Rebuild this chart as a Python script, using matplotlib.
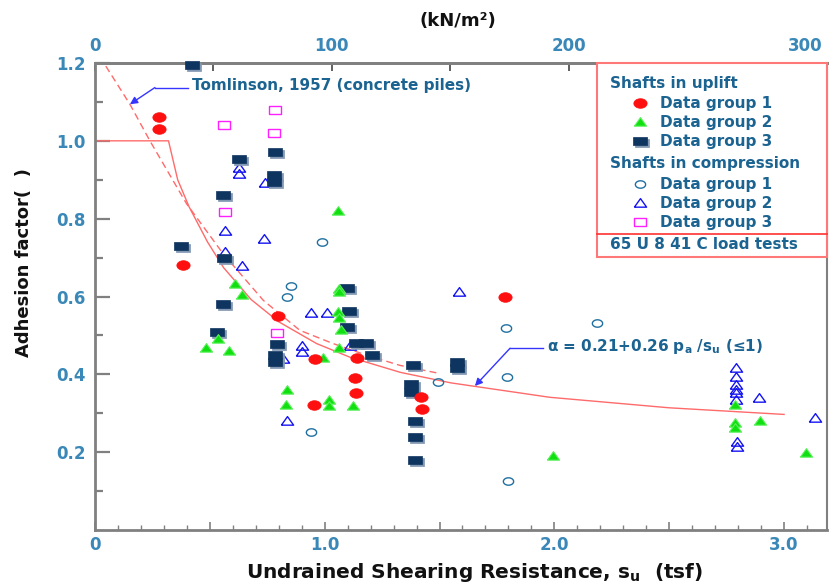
import numpy as np
import matplotlib
matplotlib.use("Agg")
import matplotlib.pyplot as plt
from matplotlib import transforms
from matplotlib.patches import Rectangle
from matplotlib.ticker import MultipleLocator, FixedLocator

# ---------------- data ----------------
# Shafts in uplift
up1_x = [0.279, 0.279, 0.382, 0.795, 0.958, 1.139, 1.132, 1.136, 0.953, 1.418, 1.422, 1.785]
up1_y = [1.062, 1.030, 0.681, 0.551, 0.440, 0.442, 0.391, 0.351, 0.321, 0.342, 0.310, 0.600]

up2_x = [0.610, 0.639, 0.534, 0.483, 0.585, 1.059, 1.064, 1.064, 1.059, 1.064, 1.070, 1.064,
         0.994, 0.837, 0.830, 1.020, 1.020, 1.122, 1.995, 2.786, 2.786, 2.786, 2.895, 3.097]
up2_y = [0.631, 0.603, 0.491, 0.468, 0.460, 0.819, 0.620, 0.611, 0.560, 0.544, 0.513, 0.468,
         0.442, 0.359, 0.321, 0.333, 0.319, 0.319, 0.190, 0.321, 0.275, 0.263, 0.279, 0.198]

up3_x = [0.421, 0.784, 0.628, 0.781, 0.781, 0.556, 0.373, 0.563, 0.559, 0.533, 0.791, 0.784,
         0.784, 1.096, 1.107, 1.096, 1.136, 1.178, 1.207, 1.386, 1.376, 1.376, 1.393, 1.393,
         1.393, 1.574, 1.574]
up3_y = [1.195, 0.972, 0.953, 0.913, 0.893, 0.862, 0.729, 0.698, 0.581, 0.509, 0.479, 0.449,
         0.432, 0.622, 0.564, 0.521, 0.481, 0.481, 0.450, 0.423, 0.374, 0.355, 0.279, 0.239,
         0.179, 0.432, 0.415]

# Shafts in compression
co1_x = [0.987, 0.852, 0.834, 0.942, 1.495, 1.789, 1.795, 1.797, 2.186]
co1_y = [0.739, 0.627, 0.598, 0.252, 0.380, 0.519, 0.392, 0.127, 0.533]

co2_x = [0.628, 0.628, 0.740, 0.566, 0.736, 0.566, 0.641, 0.940, 1.009, 0.900, 0.900, 0.820,
         1.110, 0.834, 1.586, 2.790, 2.790, 2.790, 2.790, 2.790, 2.790, 2.892, 3.136, 2.797, 2.797]
co2_y = [0.929, 0.915, 0.891, 0.768, 0.749, 0.715, 0.679, 0.558, 0.558, 0.474, 0.457, 0.440,
         0.474, 0.280, 0.611, 0.417, 0.393, 0.372, 0.361, 0.352, 0.335, 0.339, 0.288, 0.226, 0.212]

co3_x = [0.563, 0.784, 0.779, 0.566, 0.791]
co3_y = [1.040, 1.079, 1.019, 0.818, 0.507]

# Design line alpha = 0.21 + 0.26 pa/su (<=1)
fit_su    = [0.0, 0.32, 0.36, 0.41, 0.49, 0.56, 0.68, 0.80, 0.965, 1.11, 1.33, 1.55, 1.98, 2.5, 3.0]
fit_alpha = [1.0, 1.0, 0.90, 0.83, 0.74, 0.674, 0.592, 0.535, 0.479, 0.444, 0.405, 0.378, 0.341, 0.314, 0.297]

# Tomlinson (1957) curve
tom_su    = [0.047, 0.152, 0.239, 0.399, 0.559, 0.733, 0.892, 1.037, 1.183, 1.328, 1.502]
tom_alpha = [1.192, 1.094, 1.000, 0.838, 0.709, 0.590, 0.513, 0.479, 0.449, 0.423, 0.402]

# annotations
tom_label = "Tomlinson, 1957 (concrete piles)"
tom_arrow = [(0.152, 1.094), (0.261, 1.137), (0.404, 1.137)]
tom_text_at = (0.421, 1.141)
fit_label = "α = 0.21+0.26 p$_a$ /s$_u$ (≤1)"
fit_arrow = [(1.654, 0.370), (1.807, 0.467), (1.952, 0.467)]
fit_text_at = (1.968, 0.472)

legend_headers = ["Shafts in uplift", "Shafts in compression"]
legend_labels = ["Data group 1", "Data group 2", "Data group 3"]
legend_footer = "65 U 8 41 C load tests"

x_major = [0, 0.5, 1.0, 1.5, 2.0, 2.5, 3.0]
x_labels = ["0", "", "1.0", "", "2.0", "", "3.0"]
y_major = [0.2, 0.4, 0.6, 0.8, 1.0, 1.2]
y_labels = ["0.2", "0.4", "0.6", "0.8", "1.0", "1.2"]
top_major = [0, 100, 200, 300]
top_minor = [50, 150, 250]
KN_PER_TSF = 97.0

# ---------------- style ----------------
plt.rcParams["font.family"] = ["DejaVu Sans"]
plt.rcParams["font.weight"] = "bold"
plt.rcParams["mathtext.default"] = "bf"

TICK_C = "#3a88b8"
TEXT_C = "#1b6391"
SPINE_C = "#808080"
RED = "#ff1010"
GREEN = "#10e010"
NAVY = "#0e355f"
SHADOW = "#8297b2"
CIRC_C = "#1f6fa0"
BLUE = "#1414f0"
MAGENTA = "#ff20ff"
LINE_C = "#ff6a6a"
ARROW_C = "#3535ff"

t = np.linspace(0, 2 * np.pi, 41)
ELL = list(zip(np.cos(t), 0.72 * np.sin(t)))
TRI = [(-1, -0.6), (1, -0.6), (0, 0.8), (-1, -0.6)]
RECT = [(-1, -0.66), (1, -0.66), (1, 0.66), (-1, 0.66), (-1, -0.66)]

fig = plt.figure(figsize=(8.3, 5.83), dpi=100)
ax = fig.add_axes([95 / 830, 53 / 583, 732 / 830, 467 / 583])
ax.set_xlim(0, 3.187)
ax.set_ylim(0, 1.2)

# lines
ax.plot(fit_su, fit_alpha, color=LINE_C, lw=1.0, zorder=2)
ax.plot(tom_su, tom_alpha, color=LINE_C, lw=1.0, ls=(0, (5, 3)), zorder=2)

# markers
def mk(x, y, marker, size, fc, ec, lw=1.0, transform=None, z=3):
    kw = {}
    if transform is not None:
        kw["transform"] = transform
    ax.plot(x, y, ls="none", marker=marker, markersize=size, markerfacecolor=fc,
            markeredgecolor=ec, markeredgewidth=lw, zorder=z, clip_on=False, **kw)

shadow_tr = transforms.offset_copy(ax.transData, fig=fig, x=2, y=-2, units="dots")

mk(co1_x, co1_y, ELL, 7.4, "none", CIRC_C, 1.0)
mk(co2_x, co2_y, TRI, 8.8, "none", BLUE, 1.0)
mk(co3_x, co3_y, RECT, 8.8, "none", MAGENTA, 1.0)
mk(up3_x, up3_y, RECT, 9.4, SHADOW, SHADOW, 0.5, transform=shadow_tr, z=3)
mk(up3_x, up3_y, RECT, 9.4, NAVY, NAVY, 0.5, z=4)
mk(up2_x, up2_y, TRI, 8.8, GREEN, "#5cf05c", 0.8, z=5)
mk(up1_x, up1_y, ELL, 9.6, RED, RED, 0.5, z=5)

# annotations
def arrow(pts, label, at):
    (tx, ty), (bx, by), (ex, ey) = pts
    ax.plot([bx, ex], [by, ey], color=ARROW_C, lw=1.0, zorder=6)
    ax.annotate("", xy=(tx, ty), xytext=(bx, by),
                arrowprops=dict(arrowstyle="-|>", color=ARROW_C, lw=1.0,
                                mutation_scale=11, shrinkA=0, shrinkB=0), zorder=6)
    ax.text(at[0], at[1], label, color=TEXT_C, fontsize=11, fontweight="bold",
            ha="left", va="center", zorder=7)

arrow(tom_arrow, tom_label, tom_text_at)
arrow(fit_arrow, fit_label, fit_text_at)

# axes styling
for s in ax.spines.values():
    s.set_color(SPINE_C)
    s.set_linewidth(2)
ax.spines["right"].set_linewidth(1.5)

ax.xaxis.set_major_locator(FixedLocator(x_major))
ax.set_xticklabels(x_labels)
ax.xaxis.set_minor_locator(MultipleLocator(0.1))
ax.yaxis.set_major_locator(FixedLocator(y_major))
ax.set_yticklabels(y_labels)
ax.yaxis.set_minor_locator(FixedLocator([0.1, 0.3, 0.5, 0.7, 0.9, 1.1]))

ax.tick_params(axis="x", which="major", direction="in", length=6, width=1.2,
               color=SPINE_C, labelsize=12, labelcolor=TICK_C, pad=4)
ax.tick_params(axis="x", which="minor", direction="in", length=3.5, width=1.0, color=SPINE_C)
ax.tick_params(axis="y", which="major", direction="in", length=11, width=1.6,
               color=SPINE_C, labelsize=12, labelcolor=TICK_C, pad=7)
ax.tick_params(axis="y", which="minor", direction="in", length=5.5, width=1.6, color=SPINE_C)
for lab in ax.get_xticklabels() + ax.get_yticklabels():
    lab.set_fontweight("bold")

secax = ax.secondary_xaxis("top", functions=(lambda v: v * KN_PER_TSF, lambda v: v / KN_PER_TSF))
secax.xaxis.set_major_locator(FixedLocator(top_major))
secax.xaxis.set_minor_locator(FixedLocator(top_minor))
secax.tick_params(axis="x", which="both", direction="in", length=6, width=1.2,
                  color="#444444", labelsize=12, labelcolor=TICK_C, pad=6)
secax.tick_params(axis="x", which="minor", length=6)
for lab in secax.get_xticklabels():
    lab.set_fontweight("bold")
secax.spines["top"].set_color(SPINE_C)
secax.spines["top"].set_linewidth(2)
fig.text(458 / 830, 1 - 21 / 583, "(kN/m²)", fontsize=13, fontweight="bold",
         color="#111111", ha="center", va="center")

ax.set_xlabel("Undrained Shearing Resistance, s$_u$  (tsf)", fontsize=14.5,
              fontweight="bold", color="#111111", va="center")
ax.xaxis.set_label_coords((475 - 95) / 732, (530 - 573) / 467)
ax.set_ylabel("Adhesion factor(  )", fontsize=13, fontweight="bold", color="#111111",
              va="center")
ax.yaxis.set_label_coords((24 - 95) / 732, (530 - 263) / 467)

# legend box (drawn by hand, axes-fraction coordinates)
def fx(px):
    return (px - 95) / 732

def fy(py):
    return (530 - py) / 467

box = Rectangle((fx(597), fy(257)), fx(827) - fx(597), fy(63) - fy(257),
                transform=ax.transAxes, fill=True, facecolor="white",
                edgecolor="#ff7878", lw=1.5, zorder=8, clip_on=False)
ax.add_patch(box)
ax.plot([fx(597), fx(827)], [fy(234.3), fy(234.3)], transform=ax.transAxes,
        color="#ff3030", lw=1.2, zorder=9, clip_on=False)

tkw = dict(transform=ax.transAxes, color=TEXT_C, fontsize=11, fontweight="bold",
           ha="left", va="center", zorder=10)
ax.text(fx(610), fy(83.3), legend_headers[0], **tkw)
ax.text(fx(610), fy(163.3), legend_headers[1], **tkw)
ax.text(fx(610), fy(244.3), legend_footer, **tkw)
rows_up = [103.3, 122.3, 141.3]
rows_co = [184.0, 203.3, 222.3]
for lab, py in zip(legend_labels, rows_up):
    ax.text(fx(660), fy(py), lab, **tkw)
for lab, py in zip(legend_labels, rows_co):
    ax.text(fx(660), fy(py), lab, **tkw)

lt = ax.transAxes
shadow_lt = transforms.offset_copy(ax.transAxes, fig=fig, x=2, y=-2, units="dots")
mk([fx(640)], [fy(rows_up[0])], ELL, 9.6, RED, RED, 0.5, transform=lt, z=11)
mk([fx(640)], [fy(rows_up[1])], TRI, 8.8, GREEN, "#5cf05c", 0.8, transform=lt, z=11)
mk([fx(640)], [fy(rows_up[2])], RECT, 9.4, SHADOW, SHADOW, 0.5, transform=shadow_lt, z=11)
mk([fx(640)], [fy(rows_up[2])], RECT, 9.4, NAVY, NAVY, 0.5, transform=lt, z=12)
mk([fx(640)], [fy(rows_co[0])], ELL, 7.4, "none", CIRC_C, 1.0, transform=lt, z=11)
mk([fx(640)], [fy(rows_co[1])], TRI, 8.8, "none", BLUE, 1.0, transform=lt, z=11)
mk([fx(640)], [fy(rows_co[2])], RECT, 8.8, "none", MAGENTA, 1.0, transform=lt, z=11)

fig.savefig("out.png", dpi=100, facecolor="white")
